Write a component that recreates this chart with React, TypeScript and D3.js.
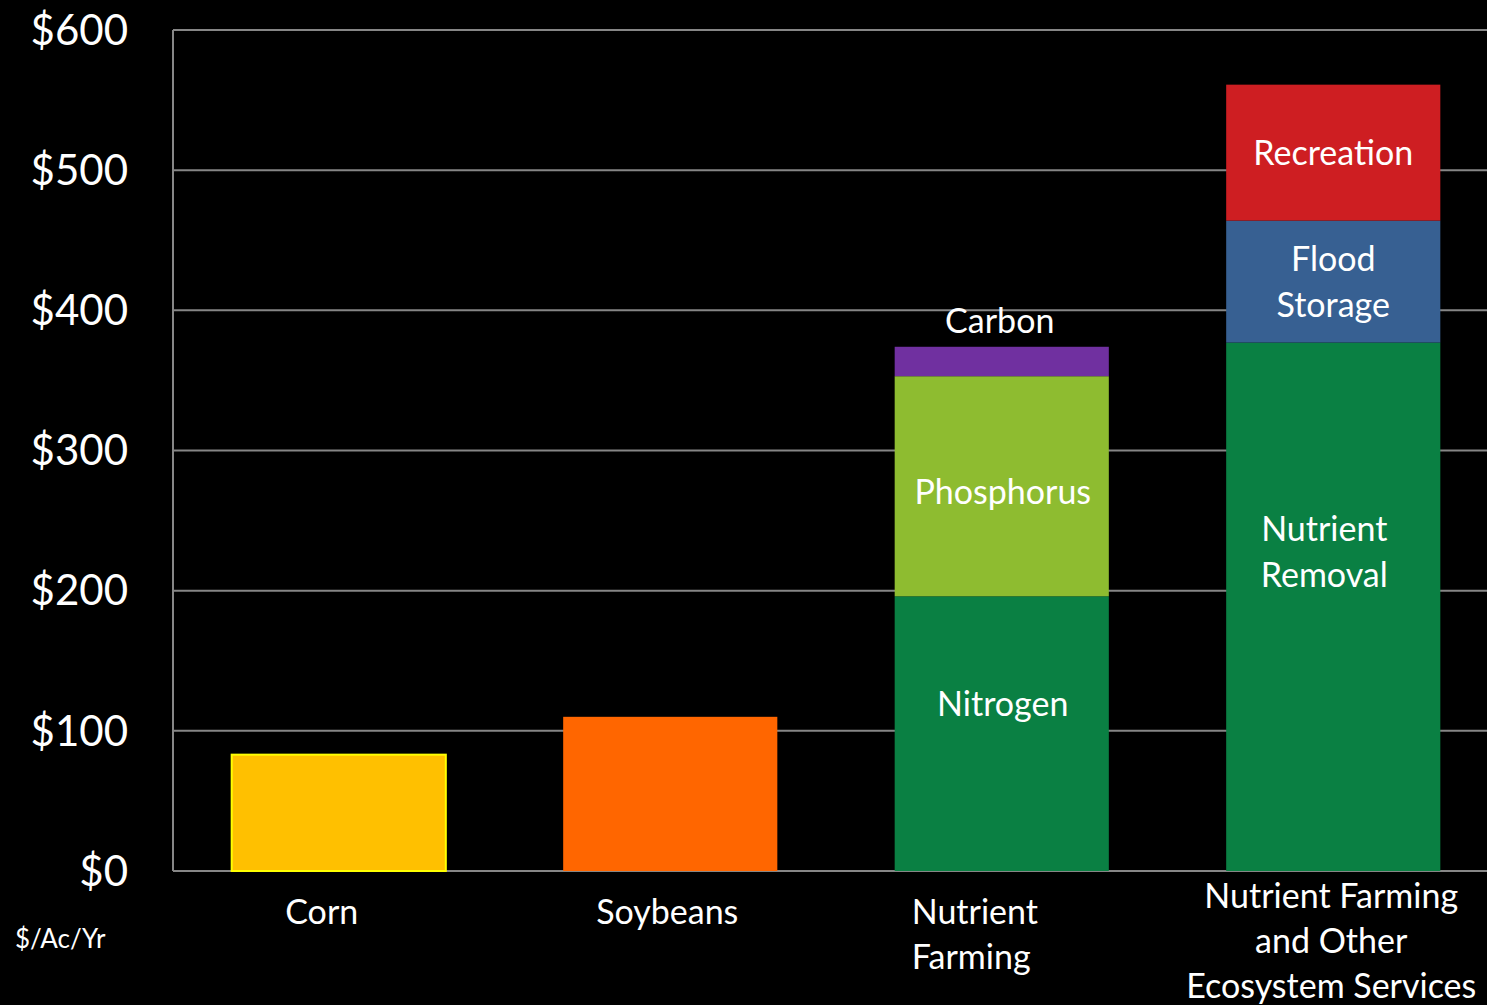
import {useEffect, useRef} from 'react';
import * as d3 from 'd3';

// values in $/Ac/Yr
const categories = ['Corn', 'Soybeans', 'Nutrient Farming', 'Nutrient Farming and Other Ecosystem Services'];
const categoryLines = [['Corn'], ['Soybeans'], ['Nutrient', 'Farming'], ['Nutrient Farming', 'and Other', 'Ecosystem Services']];
const segmentNames = ['Corn', 'Soybeans', 'Nitrogen', 'Phosphorus', 'Carbon', 'Nutrient Removal', 'Flood Storage', 'Recreation'];
const segmentCategory = [0, 1, 2, 2, 2, 3, 3, 3];
const segmentValues = [83, 110, 196, 157, 21, 377, 87, 97];
const segmentLabels = [[], [], ['Nitrogen'], ['Phosphorus'], ['Carbon'], ['Nutrient', 'Removal'], ['Flood', 'Storage'], ['Recreation']];
const yTicks = [0, 100, 200, 300, 400, 500, 600];

const colors: Record<string, string> = {
  Corn: '#FFC000',
  Soybeans: '#FF6600',
  Nitrogen: '#0A8043',
  Phosphorus: '#8EBC30',
  Carbon: '#7030A0',
  'Nutrient Removal': '#0A8043',
  'Flood Storage': '#376092',
  Recreation: '#CE1E22',
};

const FONT = 'Lato, "Open Sans", sans-serif';

const App = () => {
  const svgRef = useRef<SVGSVGElement | null>(null);

  useEffect(() => {
    if (!svgRef.current) return;
    const width = 1487;
    const height = 1005;
    const margin = {top: 30, right: 0, bottom: 134, left: 173};

    const svg = d3.select(svgRef.current);
    svg.selectAll('*').remove();

    svg.append('rect').attr('width', width).attr('height', height).attr('fill', '#000');

    // the category band runs a little past the right edge of the slide
    const x = d3
      .scaleBand()
      .domain(categories)
      .range([margin.left, 1499])
      .paddingInner(0.354)
      .paddingOuter(0.177);

    const y = d3
      .scaleLinear()
      .domain([0, 600])
      .range([height - margin.bottom, margin.top]);

    // gridlines
    svg
      .append('g')
      .selectAll('line')
      .data(yTicks)
      .join('line')
      .attr('x1', margin.left)
      .attr('x2', width - margin.right)
      .attr('y1', (d) => y(d))
      .attr('y2', (d) => y(d))
      .attr('stroke', '#868686')
      .attr('stroke-width', 2);

    svg
      .append('line')
      .attr('x1', margin.left)
      .attr('x2', margin.left)
      .attr('y1', y(600))
      .attr('y2', y(0))
      .attr('stroke', '#868686')
      .attr('stroke-width', 2);

    // y tick labels
    svg
      .append('g')
      .selectAll('text')
      .data(yTicks)
      .join('text')
      .attr('x', 128)
      .attr('y', (d) => y(d))
      .attr('dy', '0.35em')
      .attr('text-anchor', 'end')
      .attr('font-family', FONT)
      .attr('font-size', 42)
      .attr('fill', '#fff')
      .text((d) => `$${d}`);

    svg
      .append('text')
      .attr('x', 15)
      .attr('y', 948)
      .attr('font-family', FONT)
      .attr('font-size', 26)
      .attr('fill', '#fff')
      .text('$/Ac/Yr');

    // stacked segments
    const stackBase: number[] = categories.map(() => 0);
    const segments = segmentValues.map((v, i) => {
      const c = segmentCategory[i];
      const y0 = stackBase[c];
      stackBase[c] += v;
      return {name: segmentNames[i], cat: categories[c], y0, y1: y0 + v, label: segmentLabels[i]};
    });

    svg
      .append('g')
      .selectAll('rect')
      .data(segments)
      .join('rect')
      .attr('x', (d) => x(d.cat)!)
      .attr('width', x.bandwidth())
      .attr('y', (d) => y(d.y1))
      .attr('height', (d) => y(d.y0) - y(d.y1))
      .attr('fill', (d) => colors[d.name])
      .attr('stroke', (d) => (d.name === 'Corn' ? '#FFFF00' : 'none'))
      .attr('stroke-width', 2);

    // segment labels (nudged like the original)
    const labelShift: Record<string, [number, number]> = {
      Nitrogen: [1, -30],
      Phosphorus: [1, 6],
      Carbon: [-2, 0],
      'Nutrient Removal': [-9, -55],
      'Flood Storage': [0, 1],
      Recreation: [0, 0],
    };
    const lineGap = 46;

    segments
      .filter((d) => d.label.length)
      .forEach((d) => {
        const [dx, dy] = labelShift[d.name];
        const cx = x(d.cat)! + x.bandwidth() / 2 + dx;
        const cy = d.name === 'Carbon' ? y(d.y1) - 26 : (y(d.y0) + y(d.y1)) / 2 + dy;
        const n = d.label.length;
        svg
          .append('g')
          .selectAll('text')
          .data(d.label)
          .join('text')
          .attr('x', cx)
          .attr('y', (_, i) => cy + (i - (n - 1) / 2) * lineGap)
          .attr('dy', '0.35em')
          .attr('text-anchor', 'middle')
          .attr('font-family', FONT)
          .attr('font-size', 34)
          .attr('fill', '#fff')
          .text((t) => t);
      });

    // category labels; the third one is left-aligned in the original
    const catShift = [-17, -3, -90, -2];
    const catAnchor = ['middle', 'middle', 'start', 'middle'];
    const catTop = [912, 912, 912, 896];
    categories.forEach((c, ci) => {
      svg
        .append('g')
        .selectAll('text')
        .data(categoryLines[ci])
        .join('text')
        .attr('x', x(c)! + x.bandwidth() / 2 + catShift[ci])
        .attr('y', (_, i) => catTop[ci] + i * 45)
        .attr('dy', '0.35em')
        .attr('text-anchor', catAnchor[ci])
        .attr('font-family', FONT)
        .attr('font-size', 34)
        .attr('fill', '#fff')
        .text((t) => t);
    });
  }, []);

  return (
    <svg
      ref={svgRef}
      width={1487}
      height={1005}
      style={{position: 'absolute', left: 0, top: 0, display: 'block'}}
    ></svg>
  );
};

export default App;
